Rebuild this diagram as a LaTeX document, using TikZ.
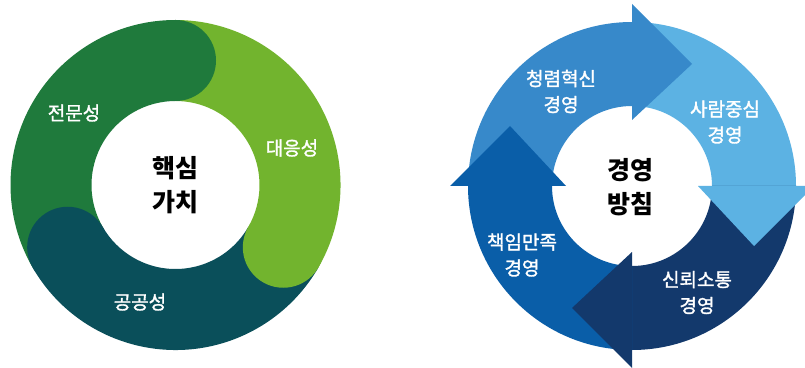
\documentclass[tikz,border=0pt]{standalone}
\usepackage{fontspec}
\newfontfamily\kr{Noto Sans CJK KR}
\newfontfamily\krm{Noto Sans CJK KR}[FakeBold=1.6]
\usepackage{tikz}
\usetikzlibrary{positioning}
\definecolor{gdark}{RGB}{31,122,60}
\definecolor{glight}{RGB}{114,180,46}
\definecolor{gteal}{RGB}{10,79,90}
\definecolor{bmid}{RGB}{55,137,202}
\definecolor{blight}{RGB}{92,178,227}
\definecolor{bnavy}{RGB}{19,57,108}
\definecolor{bdeep}{RGB}{10,94,168}
\tikzstyle{lbl} = [text=white, align=center, font=\krm\fontsize{19}{26}\selectfont]
\tikzstyle{hub} = [text=black, align=center, font=\kr\bfseries\fontsize{25}{34}\selectfont]

\begin{document}
\begin{tikzpicture}[x=1pt, y=1pt]
    \clip (0,0) rectangle (805,367);
    \fill[white] (0,0) rectangle (805,367);
    % left ring: segments, then round caps
    \begin{scope}[shift={(175.5,182)}]
        \foreach \a/\col in {90/gdark, -30/glight, 210/gteal}
            \fill[\col] (\a:84) -- (\a:165) arc[start angle=\a, end angle=\a+120, radius=165]
                -- (\a+120:84) arc[start angle=\a+120, end angle=\a, radius=84] -- cycle;
        \foreach \a/\col in {90/gdark, -30/glight, 210/gteal}
            \fill[\col] (\a:124.5) circle[radius=40.5];
    \end{scope}
    \node[lbl] (jeonmun) at (74,254) {전문성};
    \node[lbl] (daeeung) at (292,219) {대응성};
    \node[lbl] (gonggong) at (140,65) {공공성};
    \node[hub] (haeksim) at (175,181.5) {핵심\\가치};
    % right ring: shafts, then heads
    \foreach \b/\col in {90/bmid, 0/blight, -90/bnavy, 180/bdeep}
        \fill[\col, shift={(632,181)}, rotate=\b] (80,0) -- (164,0) arc[start angle=0, end angle=90, radius=164]
            -- (0,80) arc[start angle=90, end angle=0, radius=80] -- cycle;
    \foreach \b/\col in {90/bmid, 0/blight, -90/bnavy, 180/bdeep}
        \fill[\col, shift={(632,181)}, rotate=\b] (66,0) -- (182,0) -- (122,-60) -- cycle;
    \node[lbl] (cheongryeom) at (561,275.5) {청렴혁신\\경영};
    \node[lbl] (saram) at (725,245) {사람중심\\경영};
    \node[lbl] (chaegim) at (522,112) {책임만족\\경영};
    \node[lbl] (sinroe) at (697,74.5) {신뢰소통\\경영};
    \node[hub] (gyeongyeong) at (630,180) {경영\\방침};
\end{tikzpicture}
\end{document}
